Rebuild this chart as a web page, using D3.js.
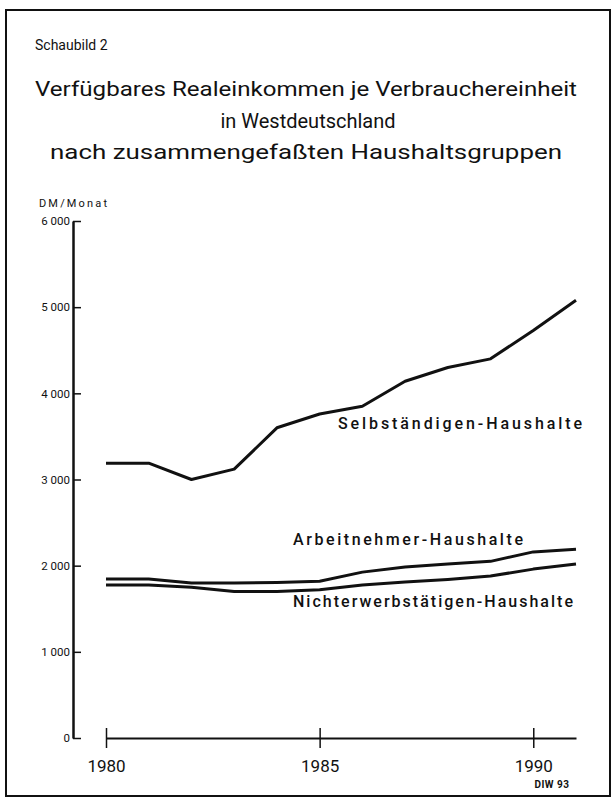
<!DOCTYPE html>
<html>
<head>
<meta charset="utf-8">
<script src="https://cdn.jsdelivr.net/npm/d3@7"></script>
<style>
  body { margin: 0; background: #fff; }
  svg { display: block; }
  text { font-family: Roboto, "DejaVu Sans", sans-serif; fill: #111; }
</style>
</head>
<body>
<div id="chart"></div>
<script>
const years = [1980, 1981, 1982, 1983, 1984, 1985, 1986, 1987, 1988, 1989, 1990, 1991];
const selbstaendige = [3190, 3190, 3000, 3120, 3600, 3760, 3850, 4140, 4300, 4400, 4730, 5080];
const arbeitnehmer = [1845, 1845, 1800, 1800, 1805, 1820, 1925, 1985, 2020, 2050, 2160, 2190];
const nichterwerb = [1775, 1775, 1750, 1700, 1700, 1720, 1775, 1810, 1840, 1880, 1960, 2020];
const yTicks = [0, 1000, 2000, 3000, 4000, 5000, 6000];
const xTicks = [1980, 1985, 1990];

const width = 614;
const height = 800;

const svg = d3.select('#chart').append('svg')
  .attr('width', width)
  .attr('height', height);

// scanned page frame
svg.append('rect')
  .attr('x', 6).attr('y', 10)
  .attr('width', 604).attr('height', 786)
  .attr('fill', 'none')
  .attr('stroke', '#111')
  .attr('stroke-width', 2);

// headings
svg.append('text')
  .attr('x', 35).attr('y', 50)
  .style('font-size', '14px')
  .text('Schaubild 2');

// w = null -> natural width, centred
const titleLines = [
  { t: 'Verfügbares Realeinkommen je Verbrauchereinheit', x: 35, y: 96, w: 542 },
  { t: 'in Westdeutschland', x: 308, y: 128, w: null },
  { t: 'nach zusammengefaßten Haushaltsgruppen', x: 50, y: 159, w: 512 },
];
svg.selectAll('text.title')
  .data(titleLines)
  .join('text')
  .attr('class', 'title')
  .attr('x', (d) => d.x)
  .attr('y', (d) => d.y)
  .attr('text-anchor', (d) => (d.w ? 'start' : 'middle'))
  .attr('textLength', (d) => d.w)
  .attr('lengthAdjust', (d) => (d.w ? 'spacingAndGlyphs' : null))
  .style('font-size', '20px')
  .text((d) => d.t);

// scales
const x = d3.scaleLinear().domain([1980, 1991]).range([106, 576]);
const y = d3.scaleLinear().domain([0, 6000]).range([738, 221]);

const fmt = d3.formatLocale({ decimal: ',', thousands: ' ', grouping: [3], currency: ['', ' DM'] }).format(',');

// y axis: ticks point right, labels on the left
const yAxis = svg.append('g')
  .attr('transform', 'translate(73,0)')
  .call(d3.axisLeft(y).tickValues(yTicks).tickSizeInner(-8).tickSizeOuter(0).tickPadding(3).tickFormat(fmt));
yAxis.select('.domain').attr('stroke', '#111').attr('stroke-width', 2.5);
yAxis.selectAll('.tick line').attr('stroke', '#111').attr('stroke-width', 1.5);
yAxis.selectAll('.tick text')
  .style('font-size', '11.5px')
  .style('font-family', 'Roboto, sans-serif')
  .attr('fill', '#111');

svg.append('text')
  .attr('x', 39).attr('y', 207)
  .attr('textLength', 68)
  .style('font-size', '11px')
  .text('DM/Monat');

// x axis: ticks crossing the line
const xAxis = svg.append('g')
  .attr('transform', `translate(0,${y(0)})`)
  .call(d3.axisBottom(x).tickValues(xTicks).tickSizeInner(10).tickSizeOuter(0).tickPadding(24).tickFormat(d3.format('d')));
xAxis.select('.domain').attr('stroke', '#111').attr('stroke-width', 2);
xAxis.selectAll('.tick line').attr('y1', -10).attr('stroke', '#111').attr('stroke-width', 1.5);
xAxis.selectAll('.tick text')
  .attr('dy', 0)
  .style('font-size', '17px')
  .style('font-family', 'Roboto, sans-serif')
  .attr('fill', '#111');

svg.append('text')
  .attr('x', 552).attr('y', 788)
  .attr('text-anchor', 'middle')
  .style('font-size', '10px')
  .style('font-weight', 'bold')
  .style('letter-spacing', '0.5px')
  .text('DIW 93');

// series
const series = [
  { name: 'Selbständigen-Haushalte', values: selbstaendige, lx: 338, ly: 429, w: 244 },
  { name: 'Arbeitnehmer-Haushalte', values: arbeitnehmer, lx: 293, ly: 545, w: 230 },
  { name: 'Nichterwerbstätigen-Haushalte', values: nichterwerb, lx: 293, ly: 607, w: 280 },
];

const line = d3.line()
  .x((d, i) => x(years[i]))
  .y((d) => y(d));

svg.selectAll('path.series')
  .data(series)
  .join('path')
  .attr('class', 'series')
  .attr('d', (d) => line(d.values))
  .attr('fill', 'none')
  .attr('stroke', '#111')
  .attr('stroke-width', 3)
  .attr('stroke-linejoin', 'round');

svg.selectAll('text.label')
  .data(series)
  .join('text')
  .attr('class', 'label')
  .attr('x', (d) => d.lx)
  .attr('y', (d) => d.ly)
  .attr('textLength', (d) => d.w)
  .attr('lengthAdjust', 'spacing')
  .style('font-size', '16px')
  .style('font-weight', 500)
  .text((d) => d.name);
</script>
</body>
</html>
